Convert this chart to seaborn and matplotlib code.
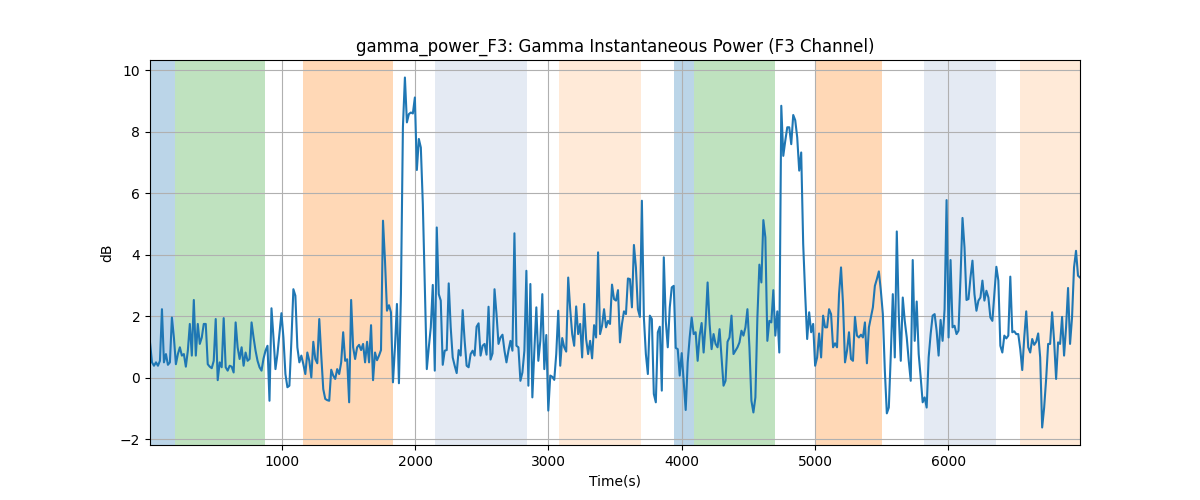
import numpy as np
import matplotlib
matplotlib.use("Agg")
import matplotlib.pyplot as plt
import seaborn as sns

# ---- data ----
seg1 = [1.15, 0.50, 0.39, 0.50, 0.39, 0.55, 2.23, 0.50, 0.77, 0.42, 0.50, 1.96, 1.31, 0.44, 0.77, 0.99, 0.72, 0.77,
        0.36, 0.88, 1.75, 0.72, 2.53, 0.72, 1.75, 1.10, 1.31, 1.75, 1.75, 0.44, 0.36, 0.31, 0.55, 1.91, -0.08, 0.50,
        0.34, 1.94, 0.34, 0.23, 0.39, 0.36, 0.17, 1.80, 0.99, 0.61, 0.99, 0.39, 0.82, 0.55, 0.61, 1.80, 1.31, 0.88,
        0.55, 0.34, 0.23, 0.62, 0.88, 1.04]
seg2 = [-0.75, 2.26, 1.31, 0.28, 0.77, 1.45, 2.10, 1.31, 0.12, -0.31, -0.26, 1.20, 2.88, 2.67, 0.99, 0.50, 0.72,
        0.44, 0.12, 0.82, 0.55, 0.01, 1.17, 0.61, 0.47, 1.91, 0.72, -0.37, -0.69, -0.73, -0.75, 0.26, 0.07, -0.04,
        0.28, 0.12, 0.50, 1.48, 0.55, 0.60, -0.80, 2.53, 0.99, 0.61, 0.99, 1.07, 0.90, 1.10, 0.50, 1.17, 0.50, 1.71,
        -0.08, 0.82, 0.57, 0.72, 0.90, 5.11]
seg3 = [3.81, 2.18, 2.36, 2.13, -0.15, 0.99, 2.40, -0.18, 2.72, 8.15, 9.77, 8.31, 8.58, 8.63, 8.60, 9.12, 6.76, 7.77,
        7.49, 5.65, 2.94, 0.28, 0.99, 1.64, 3.02, 0.23, 4.89, 2.72, 2.51, 0.42, 0.88, 0.90, 3.07, 1.64, 0.66, 0.39,
        0.15, 0.90, 0.72, 2.20, 1.20, 0.39, 0.34, 0.77, 0.88, 0.72, 1.66, 1.77, 0.72, 1.04, 1.10, 0.75, 2.31, 0.59,
        0.79, 2.88, 2.07, 1.10, 1.31]
seg4 = [1.40, 0.88, 0.50, 0.88, 1.20, 0.88, 4.70, 1.04, 0.99, -0.10, 0.17, 0.88, 3.48, -0.26, 3.05, -0.64, 0.88,
        2.29, 0.55, 1.20, 2.72, 0.28, 1.39, -1.07, 0.07, 0.03, -0.07, 0.77, 2.18, 0.39, 1.29, 0.99, 0.85, 3.26, 2.23,
        1.42, 1.04, 2.32, 1.42, 1.75, 0.66, 2.40, 1.26, 0.77, 1.20, 0.63, 1.71, 1.31, 4.08, 1.42, 1.69, 2.23, 1.64,
        1.85, 1.75, 3.03, 2.56, 2.51]
seg5 = [2.85, 1.15, 1.75, 2.16, 2.07, 3.23, 3.21, 2.29, 4.32, 3.59, 2.23, 1.98, 5.76, 1.96, 0.77, 0.12, 2.02, 1.91,
        -0.53, -0.80, 1.48, 1.66, -0.42, 3.92, 1.85, 0.99, 2.29, 2.94, 2.99, 0.97, 0.93, 0.07, 0.80, -0.10, -1.05,
        0.50, 1.31, 1.96, 1.42, 1.48, 0.55, 1.37, 1.78, 0.82, 1.75, 3.10, 1.75, 0.93, 1.42, 1.10, 0.99, 1.58, 0.66,
        -0.26, -0.10, 1.17, 1.31, 2.02, 0.77]
seg6 = [0.88, 0.99, 1.15, 1.53, 1.37, 1.64, 2.23, 0.99, -0.75, -1.13, -0.64, 1.96, 3.68, 3.10, 5.13, 4.57, 1.20,
        1.85, 1.80, 2.85, 1.37, 2.16, 0.82, 8.85, 7.22, 7.71, 8.15, 8.15, 7.60, 8.55, 8.38, 7.82, 6.74, 7.33, 4.35,
        2.72, 1.26, 2.13, 1.48, 1.75, 0.39, 0.66, 1.44, 0.66, 2.02, 1.64, 1.64, 2.23, 2.07, 0.99, 1.12, 0.99, 2.72,
        3.59, 2.40, 0.50, 0.88, 1.48, 0.61]
seg7 = [0.55, 1.98, 1.37, 1.31, 1.40, 1.31, 1.80, 0.47, 1.64, 1.96, 2.29, 2.99, 3.21, 3.46, 2.83, 2.07, 0.23, -1.16,
        -0.97, 0.77, 2.72, 0.66, 4.76, 2.07, 0.55, 2.61, 1.85, 1.31, 0.55, -0.10, 3.83, 1.20, 2.48, 0.77, 0.01, -0.80,
        -0.64, -0.97, 0.66, 1.42, 2.02, 2.07, 1.53, 0.72, 1.88, 1.20, 2.23, 5.78, 1.31, 3.83, 1.64, 1.69, 1.42, 1.53,
        3.26, 5.20, 4.24, 2.53, 2.56, 3.26]
seg8 = [3.81, 2.72, 2.18, 2.51, 2.61, 3.16, 2.51, 2.83, 2.61, 1.96, 1.85, 2.72, 3.61, 3.16, 1.04, 0.82, 1.37, 1.28,
        1.37, 3.29, 1.48, 1.51, 1.42, 1.42, 0.93, 0.25, 1.31, 2.16, 0.99, 0.82, 1.26, 1.07, 1.17, 1.44, 0.66, -1.62,
        -0.97, -0.04, 1.10, 1.10, 2.13, 1.20, -0.04, 1.15, 1.10, 1.98, 0.72, 1.64, 2.92, 1.10, 1.96, 3.59, 4.13, 3.32,
        3.26]
power_db = seg1 + seg2 + seg3 + seg4 + seg5 + seg6 + seg7 + seg8

time_start = 12.0
time_end = 6988.0
times = np.linspace(time_start, time_end, len(power_db))  # regular sampling grid

# shaded intervals (start, end, colour, alpha)
span_starts = [0, 196, 1158, 2150, 3083, 3940, 4093, 5000, 5820, 6541]
span_ends = [196, 878, 1832, 2840, 3697, 4093, 4697, 5501, 6357, 7000]
span_colors = ["tab:blue", "tab:green", "tab:orange", "#4c72b0", "tab:orange",
               "tab:blue", "tab:green", "tab:orange", "#4c72b0", "tab:orange"]
span_alphas = [0.3, 0.3, 0.3, 0.15, 0.16, 0.3, 0.3, 0.3, 0.15, 0.16]

# ---- plot ----
fig, ax = plt.subplots(figsize=(12, 5), dpi=100)
for s, e, c, a in zip(span_starts, span_ends, span_colors, span_alphas):
    ax.axvspan(s, e, color=c, alpha=a, linewidth=0)

sns.lineplot(x=times, y=power_db, ax=ax, color="tab:blue", linewidth=1.5)

ax.set_xlim(times[0], times[-1])
ax.grid(True)
ax.set_title("gamma_power_F3: Gamma Instantaneous Power (F3 Channel)")
ax.set_xlabel("Time(s)")
ax.set_ylabel("dB")

fig.savefig("out.png", dpi=100)
